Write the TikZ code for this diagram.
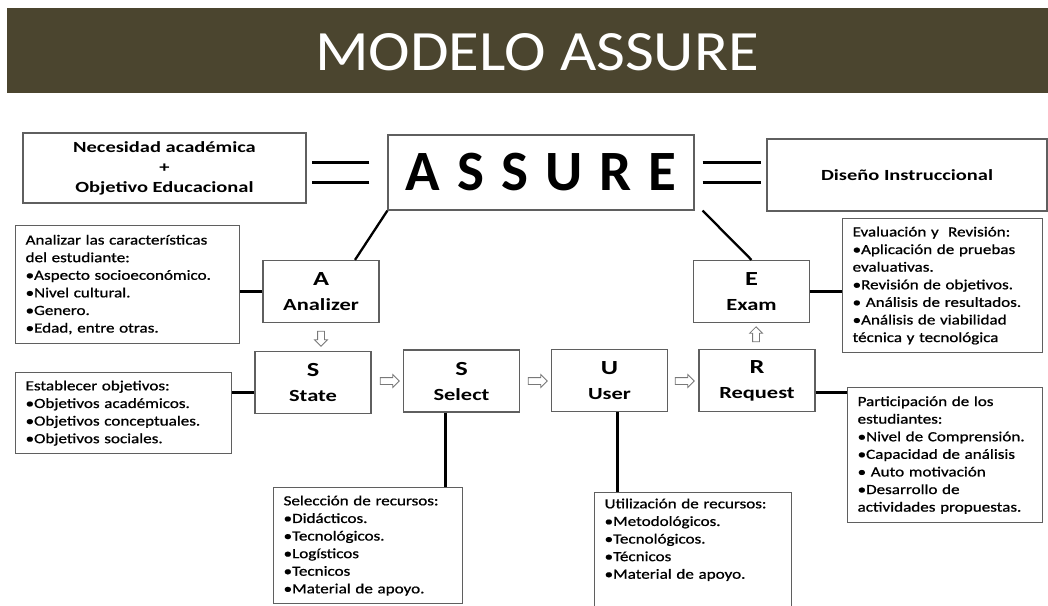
\documentclass[tikz,border=0pt]{standalone}
\usepackage{fontspec}
\setmainfont{Carlito}
\newfontfamily\titlefont{Carlito}[FakeStretch=1.1]
\newfontfamily\notefont{Carlito}[FakeStretch=1.22,FakeBold=0.9]
\newfontfamily\headfont{Carlito}[FakeStretch=1.32]
\usetikzlibrary{shapes.arrows}
\definecolor{titlebg}{RGB}{75,69,47}
\definecolor{boxgray}{RGB}{95,95,95}
\definecolor{arrowgray}{RGB}{120,120,120}

\begin{document}
\begin{tikzpicture}[x=1pt,y=-1pt,
    hollow/.style={single arrow,draw=arrowgray,fill=white,line width=.8pt,
      minimum height=19pt,inner sep=3pt,single arrow head extend=3pt}]

      \useasboundingbox (0,0) rectangle (1048,605);

      % title bar
      \fill[titlebg] (7,8) rectangle (1048,93);
      \node[text=white,font=\titlefont\fontsize{57}{60}\selectfont] (title) at (537,52) {MODELO ASSURE};

      \begin{scope}[every node/.style={draw=boxgray,line width=1.2pt,align=center}]
        \node[minimum width=306pt,minimum height=75pt,font=\bfseries\fontsize{57}{60}\selectfont] (assure) at (541,172.5)
          {A\hspace{17pt}S\hspace{17pt}S\hspace{17pt}U\hspace{17pt}R\hspace{17pt}E};
        \node[minimum width=283pt,minimum height=70pt,font=\headfont\bfseries\fontsize{15.5}{20}\selectfont] (need) at (164.5,168)
          {Necesidad académica\\+\\Objetivo Educacional};
        \node[minimum width=280pt,minimum height=72pt,font=\headfont\bfseries\fontsize{15.5}{20}\selectfont] (design) at (907,175)
          {Diseño Instruccional};
      \end{scope}

      \begin{scope}[every node/.style={draw=boxgray,line width=1.2pt,minimum width=116pt,minimum height=62pt,
          align=center,font=\headfont\bfseries\fontsize{17}{25}\selectfont}]
        \node (A)     at (321,291.5) {{\fontsize{20}{25}\selectfont A}\\Analizer};
        \node (E)     at (751.5,291.5) {{\fontsize{20}{25}\selectfont E}\\Exam};
        \node (state) at (313,382.5) {{\fontsize{20}{25}\selectfont S}\\State};
        \node (sel)   at (461.5,381) {{\fontsize{20}{25}\selectfont S}\\Select};
        \node (user)  at (609.5,380.5) {{\fontsize{20}{25}\selectfont U}\\User};
        \node (req)   at (757,380.5) {{\fontsize{20}{25}\selectfont R}\\Request};
      \end{scope}

      \begin{scope}[every node/.style={draw=boxgray,line width=1.2pt,anchor=north west,align=left,
          inner xsep=10pt,inner ysep=3pt,font=\notefont\fontsize{14}{17.6}\selectfont}]
        \node[text width=204pt,minimum height=118pt] (analyse) at (15,225)
          {Analizar las características\\del estudiante:\\•Aspecto socioeconómico.\\•Nivel cultural.\\•Genero.\\•Edad, entre otras.};
        \node[text width=196pt,minimum height=81pt] (goals) at (15,372)
          {Establecer objetivos:\\•Objetivos académicos.\\•Objetivos conceptuales.\\•Objetivos sociales.};
        \node[text width=169pt,minimum height=116pt] (choose) at (273,487)
          {Selección de recursos:\\•Didácticos.\\•Tecnológicos.\\•Logísticos\\•Tecnicos\\•Material de apoyo.};
        \node[text width=177pt,inner ysep=6pt] (use) at (594,492)
          {Utilización de recursos:\\•Metodológicos.\\•Tecnológicos.\\•Técnicos\\•Material de apoyo.\\[40pt]\mbox{}};
        \node[text width=175pt,minimum height=135pt] (share) at (847,387)
          {Participación de los\\estudiantes:\\•Nivel de Comprensión.\\•Capacidad de análisis\\• Auto motivación\\•Desarrollo de\\actividades propuestas.};
        \node[text width=180pt,minimum height=134pt] (review) at (842,218)
          {Evaluación y~~Revisión:\\•Aplicación de pruebas\\evaluativas.\\•Revisión de objetivos.\\• Análisis de resultados.\\•Análisis de viabilidad\\técnica y tecnológica};
      \end{scope}

      % small hollow arrows
      \node[hollow,minimum height=15pt,shape border rotate=270] (a2s) at (321,337) {};
      \node[hollow] (s2s) at (388,381) {};
      \node[hollow] (s2u) at (536,381) {};
      \node[hollow] (u2r) at (683,381) {};
      \node[hollow,minimum height=15pt,shape border rotate=90] (r2e) at (756,336) {};

      \begin{scope}[every edge/.style={draw,line width=2.3pt}]
        \path (assure.south west) edge ([xshift=34pt]A.north);
        \path ([xshift=8pt]assure.south east) edge (E.north);
        \path ([shift={(-18,-10)}]assure.west) edge ([shift={(-75,-10)}]assure.west);
        \path ([shift={(-18,10)}]assure.west) edge ([shift={(-75,10)}]assure.west);
        \path ([shift={(8,-10)}]assure.east) edge ([shift={(66,-10)}]assure.east);
        \path ([shift={(8,10)}]assure.east) edge ([shift={(66,10)}]assure.east);
        \path (A) edge (A -| analyse.east);
        \path (E) edge (E -| review.west);
        \path ([yshift=-10pt]state.west) edge ([yshift=-10pt]state.west -| goals.east);
        \path ([yshift=-12pt]req.east) edge ([yshift=-12pt]req.east -| share.west);
        \path ([xshift=-16pt]sel.south) edge ([xshift=-16pt]sel.south |- choose.north);
        \path ([xshift=8pt]user.south) edge ([xshift=8pt]user.south |- use.north);
      \end{scope}

    \end{tikzpicture}
\end{document}
